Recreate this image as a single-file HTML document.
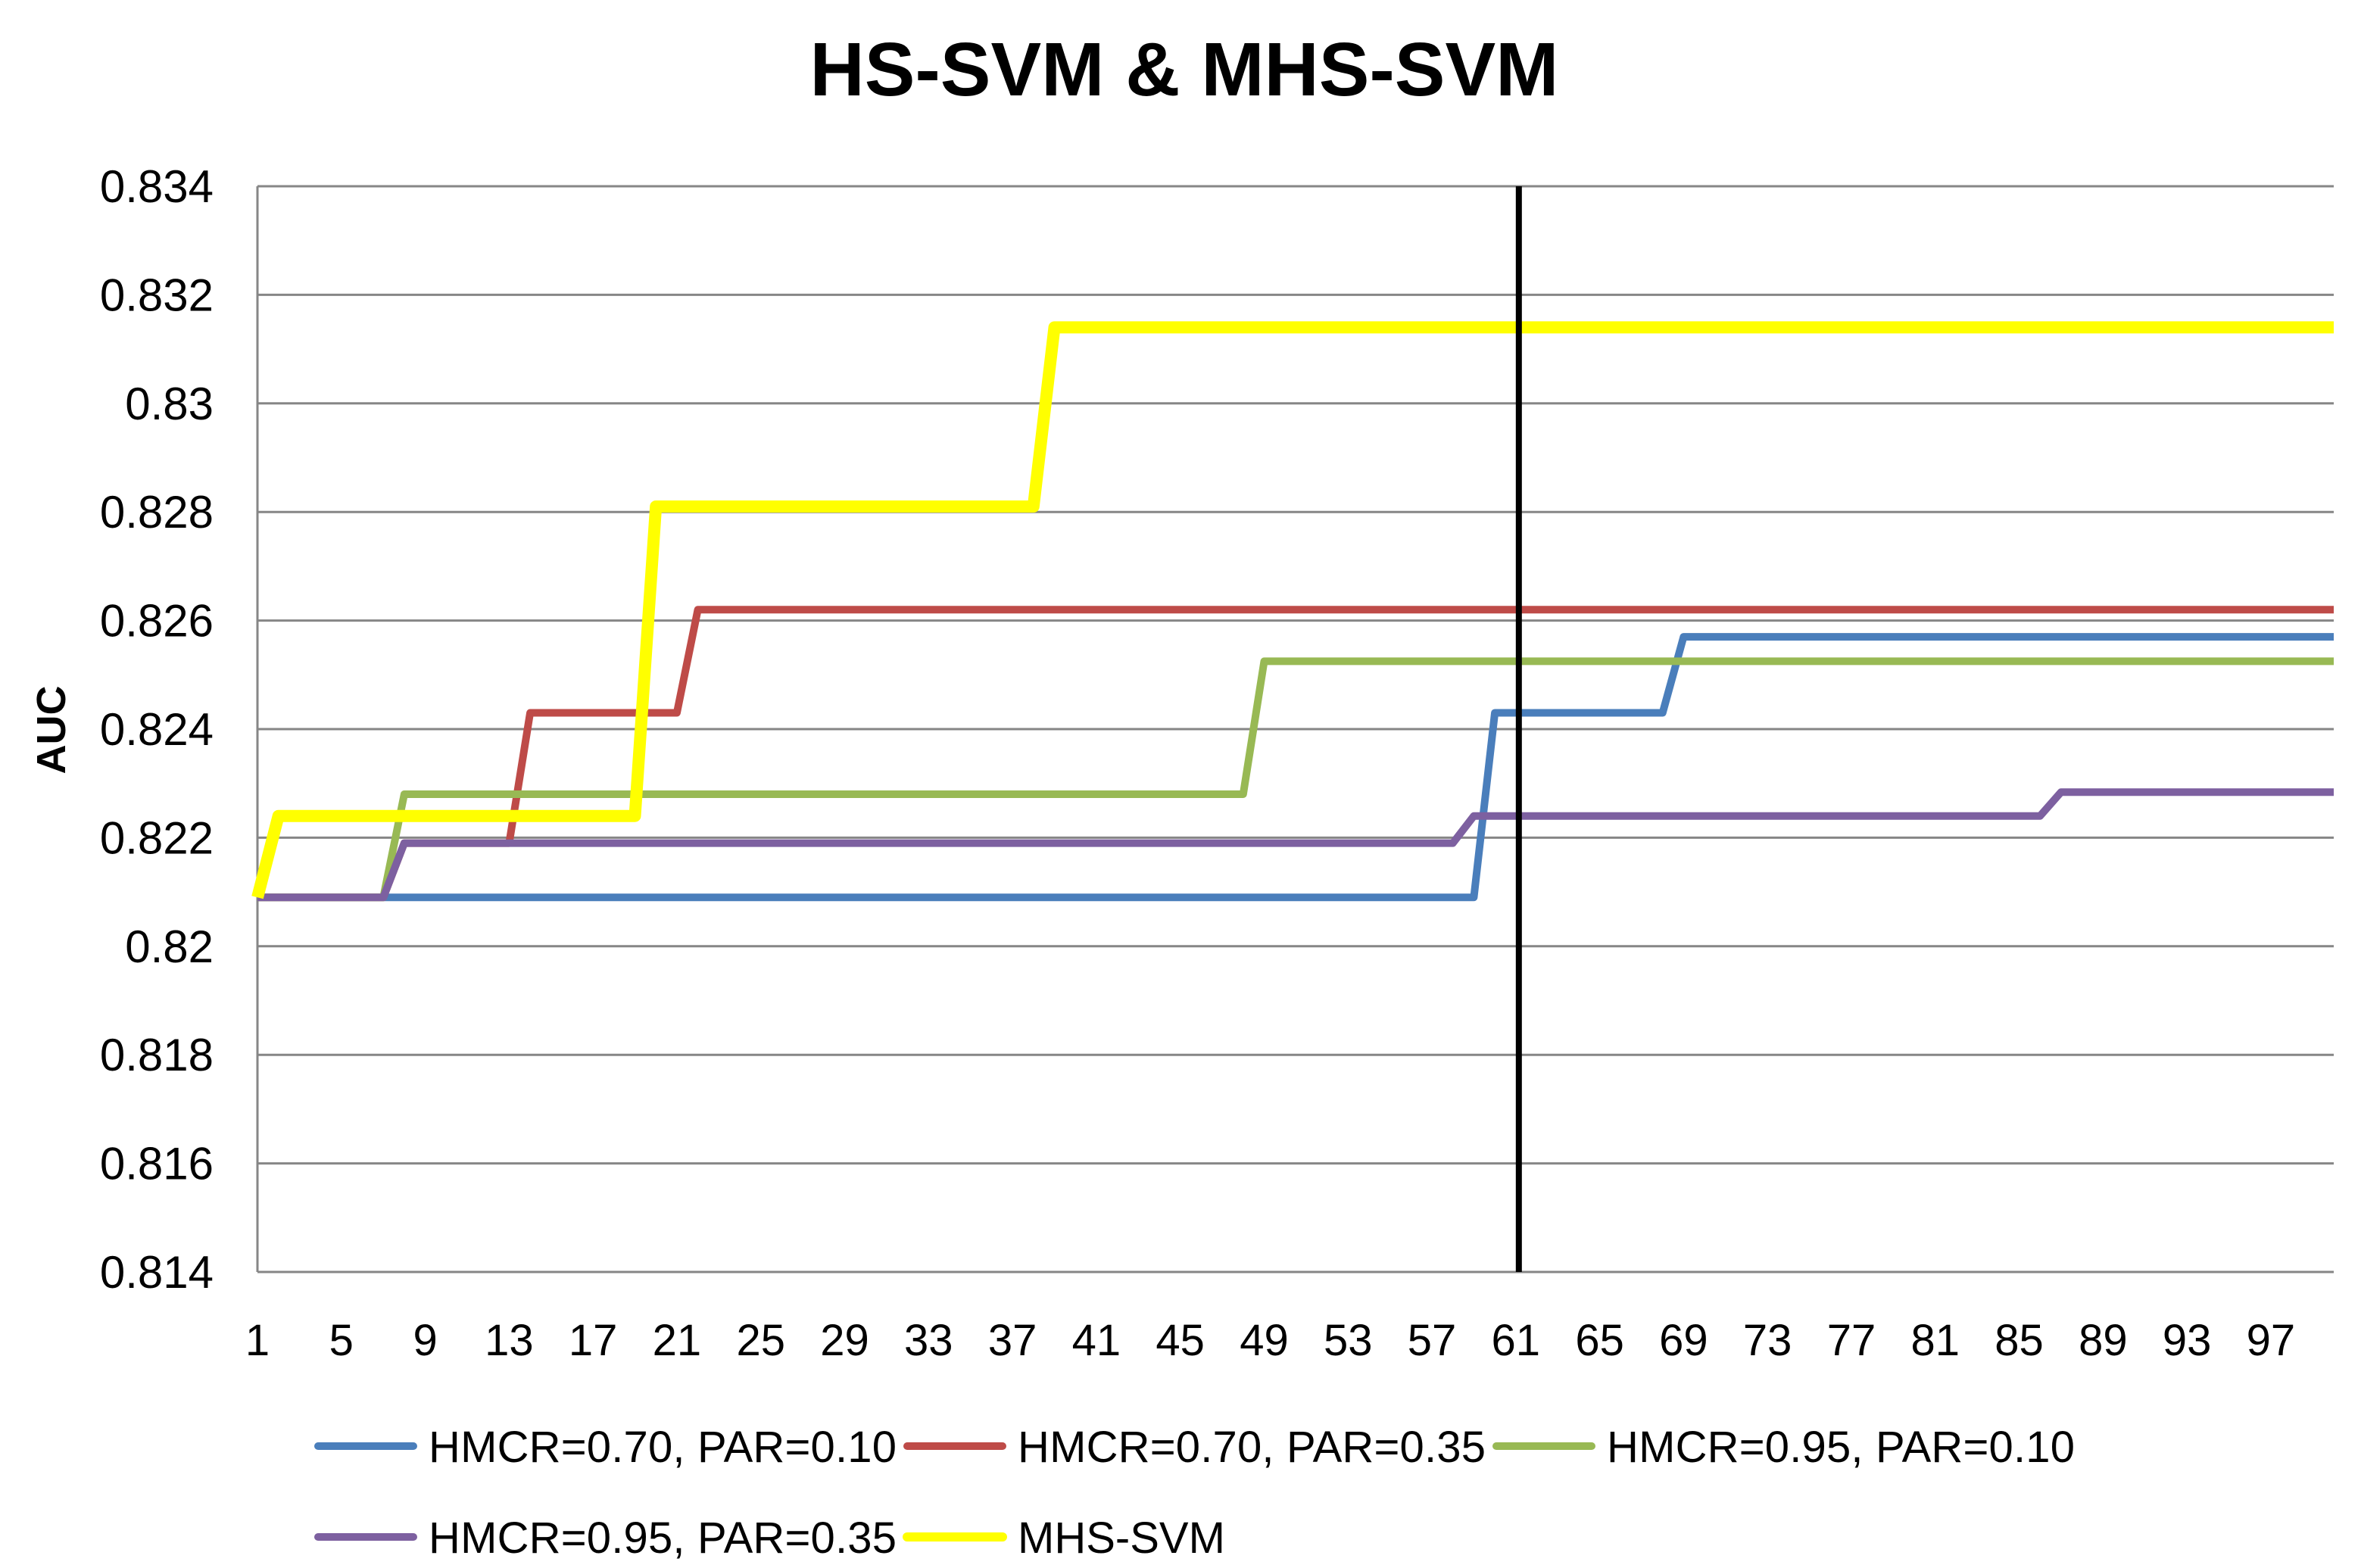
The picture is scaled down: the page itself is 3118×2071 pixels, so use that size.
<!DOCTYPE html>
<html><head><meta charset="utf-8"><style>
html,body{margin:0;padding:0;background:#fff;}
svg{display:block;font-family:"Liberation Sans",sans-serif;}
</style></head><body>
<svg id="chart" width="3118" height="2071" viewBox="0 0 3118 2071" xmlns="http://www.w3.org/2000/svg">
<rect width="3118" height="2071" fill="#fff"/>
<text x="1564" y="126" text-anchor="middle" font-size="100" font-weight="bold" fill="#000">HS-SVM &amp; MHS-SVM</text>
<text transform="translate(86,964) rotate(-90)" text-anchor="middle" font-size="54" font-weight="bold" fill="#000">AUC</text>
<g id="grid"></g><g id="yt"></g><g id="xt"></g><g id="series"></g><g id="legend"></g>
</svg>
<script>
const yTicks = [0.814,0.816,0.818,0.82,0.822,0.824,0.826,0.828,0.83,0.832,0.834];
const yTickLabels = ["0.814","0.816","0.818","0.82","0.822","0.824","0.826","0.828","0.83","0.832","0.834"];
const nCats = 100;
const xTickLabels = [1,5,9,13,17,21,25,29,33,37,41,45,49,53,57,61,65,69,73,77,81,85,89,93,97];
const seriesNames = ["HMCR=0.70, PAR=0.10","HMCR=0.70, PAR=0.35","HMCR=0.95, PAR=0.10","HMCR=0.95, PAR=0.35","MHS-SVM"];
const blueStarts = [1,60,69];
const blueLevels = [0.8209,0.8243,0.8257];
const redStarts = [1,8,14,22];
const redLevels = [0.8209,0.8219,0.8243,0.8262];
const greenStarts = [1,8,49];
const greenLevels = [0.8209,0.8228,0.82525];
const purpleStarts = [1,8,59,87];
const purpleLevels = [0.8209,0.8219,0.8224,0.82284];
const yellowStarts = [1,2,20,39];
const yellowLevels = [0.8209,0.8224,0.8281,0.8314];
const markerIteration = 61;

const NS="http://www.w3.org/2000/svg";
const L=340,R=3082,T=246,B=1680,ymin=0.814,ymax=0.834;
function xs(i){return L+(i-1)*(R-L)/(nCats-1);}
function ys(v){return B-(v-ymin)/(ymax-ymin)*(B-T);}
function mk(tag,attrs,parent){const e=document.createElementNS(NS,tag);for(const k in attrs)e.setAttribute(k,attrs[k]);parent.appendChild(e);return e;}
const grid=document.getElementById('grid'),yt=document.getElementById('yt'),xt=document.getElementById('xt'),ser=document.getElementById('series'),leg=document.getElementById('legend');
yTicks.forEach((v,k)=>{
  const g=mk('line',{x1:L,x2:R,y1:ys(v),y2:ys(v),stroke:'#868686','stroke-width':3},grid);
  
  
  const t=mk('text',{x:282,y:ys(v)+21,'text-anchor':'end','font-size':60,fill:'#000'},yt);
  t.textContent=yTickLabels[k];
  
  
});
const ax=mk('line',{x1:L,x2:L,y1:T,y2:B,stroke:'#868686','stroke-width':3},grid);


xTickLabels.forEach(c=>{
  const t=mk('text',{x:xs(c),y:1790,'text-anchor':'middle','font-size':58,fill:'#000'},xt);
  t.textContent=String(c);
  
  
});
function valAt(starts,levels,i){let v=levels[0];for(let k=0;k<starts.length;k++){if(i>=starts[k])v=levels[k];}return v;}
const defs=[
 {s:blueStarts,l:blueLevels,c:'#4a7ebb',w:10,n:'series-hmcr070-par010'},
 {s:redStarts,l:redLevels,c:'#be4b48',w:10,n:'series-hmcr070-par035'},
 {s:greenStarts,l:greenLevels,c:'#98b954',w:10,n:'series-hmcr095-par010'},
 {s:purpleStarts,l:purpleLevels,c:'#7d60a0',w:10,n:'series-hmcr095-par035'},
 {s:yellowStarts,l:yellowLevels,c:'#ffff00',w:16,n:'series-mhs-svm'}];
defs.forEach(d=>{
  let pts=[];
  for(let i=1;i<=nCats;i++)pts.push(xs(i).toFixed(1)+','+ys(valAt(d.s,d.l,i)).toFixed(1));
  const p=mk('polyline',{points:pts.join(' '),fill:'none',stroke:d.c,'stroke-width':d.w,'stroke-linejoin':'round'},ser);
  
  
});
const vl=mk('line',{x1:xs(markerIteration)+4,x2:xs(markerIteration)+4,y1:T,y2:B,stroke:'#000','stroke-width':8},ser);


const legPos=[[420,1910],[1198,1910],[1976,1910],[420,2030],[1198,2030]];
defs.forEach((d,k)=>{
  const [x,y]=legPos[k];
  const g=mk('g',{},leg);
  
  
  mk('line',{x1:x,x2:x+126,y1:y,y2:y,stroke:d.c,'stroke-width':d.w===16?12:10,'stroke-linecap':'round'},g);
  const t=mk('text',{x:x+146,y:y+21,'font-size':58,fill:'#000'},g);
  t.textContent=seriesNames[k];
  if(k<4)t.setAttribute('textLength',618);
});
</script>
</body></html>
